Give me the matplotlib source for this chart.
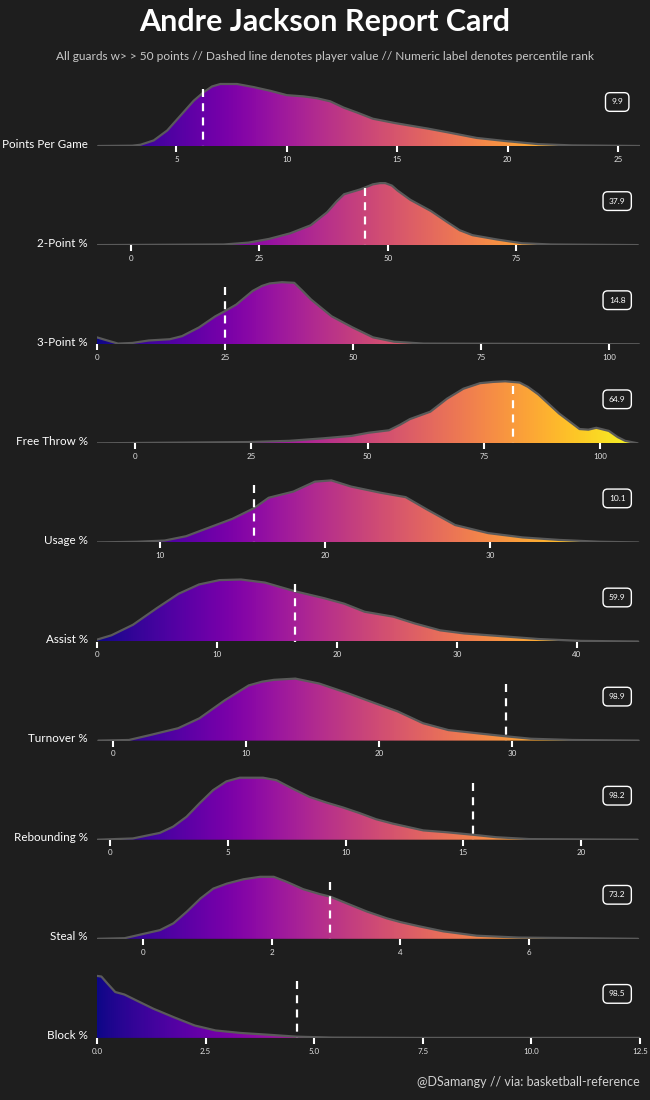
import numpy as np
import matplotlib
matplotlib.use("Agg")
import matplotlib.pyplot as plt

BG = "#1e1e1e"
FONT = ["Lato", "DejaVu Sans"]
plt.rcParams["font.family"] = FONT

TITLE = "Andre Jackson Report Card"
SUBTITLE = "All guards w> > 50 points // Dashed line denotes player value // Numeric label denotes percentile rank"
CREDIT = "@DSamangy // via: basketball-reference"

labels = ["Points Per Game", "2-Point %", "3-Point %", "Free Throw %", "Usage %",
          "Assist %", "Turnover %", "Rebounding %", "Steal %", "Block %"]
player_vals = [6.2, 45.5, 25.0, 81.2, 15.7, 16.5, 29.5, 15.4, 2.9, 4.6]
percentiles = ["9.9", "37.9", "14.8", "64.9", "10.1", "59.9", "98.9", "98.2", "73.2", "98.5"]
xlims = [(1.4, 26.0), (-6.6, 99.1), (0, 106), (-8.2, 108.6), (6.2, 39.1),
         (0, 45.25), (-1.2, 39.6), (-0.55, 22.5), (-0.72, 7.73), (0, 12.5)]
ticks = [[5, 10, 15, 20, 25], [0, 25, 50, 75], [0, 25, 50, 75, 100],
         [0, 25, 50, 75, 100], [10, 20, 30], [0, 10, 20, 30, 40],
         [0, 10, 20, 30], [0, 5, 10, 15, 20], [0, 2, 4, 6],
         [0, 2.5, 5, 7.5, 10, 12.5]]

# density curves (height relative to each panel's peak)
ppg_x = [1.45, 3.0, 3.37, 3.97, 4.58, 5.18, 5.78, 6.24, 6.61, 6.99, 7.74, 8.5,
         9.25, 10.0, 10.76, 11.37, 11.97, 12.57, 13.18, 13.9, 14.9, 16.4, 17.3,
         18.6, 19.9, 21.4, 22.9, 26.0]
ppg_y = [0, 0.005, 0.02, 0.09, 0.25, 0.49, 0.73, 0.87, 0.96, 1.0, 1.0, 0.95,
         0.89, 0.82, 0.80, 0.77, 0.72, 0.62, 0.54, 0.44, 0.37, 0.28, 0.22,
         0.13, 0.08, 0.03, 0.01, 0]
two_x = [-6.5, 18.1, 22.9, 26.9, 31.0, 35.0, 38.2, 40.0, 41.5, 44.7, 47.1, 48.5,
         49.5, 50.8, 51.9, 54.4, 58.4, 61.6, 64.0, 66.5, 71.3, 76.1, 81.8, 98.7]
two_y = [0, 0.01, 0.04, 0.10, 0.19, 0.32, 0.53, 0.70, 0.82, 0.90, 0.98, 1.0,
         1.0, 0.96, 0.88, 0.73, 0.55, 0.37, 0.24, 0.16, 0.09, 0.03, 0.01, 0]
three_x = [0, 1.2, 4.1, 6.9, 10.1, 14.2, 16.6, 19.9, 23.1, 24.9, 27.2, 30.4,
           32.2, 33.7, 36.1, 38.5, 40.0, 41.8, 45.8, 49.9, 53.9, 58.0, 63.7, 105.8]
three_y = [0.11, 0.08, 0.01, 0.02, 0.06, 0.08, 0.13, 0.27, 0.45, 0.53, 0.64,
           0.86, 0.94, 0.98, 1.0, 0.99, 0.87, 0.72, 0.45, 0.27, 0.11, 0.04, 0.01, 0]
ft_x = [-8.2, 24.3, 33.2, 40.4, 46.6, 50.2, 54.6, 57.0, 59.1, 63.5, 67.1, 70.6,
        74.2, 77.0, 79.6, 82.7, 84.5, 86.7, 91.2, 95.6, 97.5, 99.2, 101.9,
        103.8, 105.4, 108.1]
ft_y = [0, 0.02, 0.04, 0.08, 0.12, 0.17, 0.21, 0.30, 0.39, 0.51, 0.72, 0.88,
        0.97, 0.99, 1.0, 0.98, 0.91, 0.79, 0.48, 0.23, 0.22, 0.25, 0.20,
        0.10, 0.04, 0]
usg_x = [6.2, 8.6, 10.3, 11.6, 12.8, 14.4, 15.7, 16.6, 18.1, 19.4, 20.4, 21.6,
         23.4, 24.9, 26.2, 27.9, 29.9, 32.0, 34.2, 36.7, 39.0]
usg_y = [0, 0.01, 0.03, 0.10, 0.22, 0.38, 0.55, 0.72, 0.82, 0.98, 1.0, 0.90,
         0.80, 0.73, 0.53, 0.28, 0.15, 0.08, 0.04, 0.01, 0]
ast_x = [0, 1.2, 3.0, 5.0, 6.8, 8.5, 10.2, 12.0, 14.0, 16.5, 18.9, 20.6, 22.3,
         24.7, 26.5, 28.6, 30.6, 33.4, 36.8, 40.3, 45.1]
ast_y = [0.03, 0.10, 0.27, 0.54, 0.77, 0.92, 0.99, 1.0, 0.95, 0.81, 0.70, 0.61,
         0.48, 0.40, 0.29, 0.18, 0.13, 0.09, 0.04, 0.01, 0]
tov_x = [-1.1, 1.2, 2.8, 4.9, 6.5, 8.4, 10.2, 11.2, 12.1, 13.7, 15.5, 17.7,
         19.6, 21.4, 23.3, 25.2, 27.3, 29.5, 31.4, 34.5, 39.5]
tov_y = [0, 0.01, 0.09, 0.20, 0.36, 0.65, 0.89, 0.95, 0.98, 1.0, 0.92, 0.76,
         0.61, 0.47, 0.28, 0.17, 0.12, 0.07, 0.03, 0.01, 0]
reb_x = [-0.53, 0.97, 2.12, 2.68, 3.25, 3.81, 4.38, 4.94, 5.51, 6.5, 7.06, 7.77,
         8.47, 9.18, 9.89, 10.59, 11.3, 12.0, 13.3, 14.3, 15.4, 16.4, 17.8, 22.4]
reb_y = [0, 0.02, 0.11, 0.21, 0.37, 0.59, 0.80, 0.94, 1.0, 1.0, 0.96, 0.82,
         0.69, 0.60, 0.52, 0.43, 0.33, 0.26, 0.15, 0.12, 0.08, 0.04, 0.01, 0]
stl_x = [-0.71, -0.29, 0.26, 0.47, 0.68, 0.89, 1.09, 1.30, 1.56, 1.82, 2.03,
         2.23, 2.49, 2.75, 2.91, 3.17, 3.48, 3.79, 4.0, 4.3, 4.67, 5.19, 5.84,
         6.80, 7.70]
stl_y = [0, 0.01, 0.14, 0.25, 0.44, 0.65, 0.81, 0.89, 0.96, 1.0, 1.0, 0.92,
         0.80, 0.72, 0.68, 0.57, 0.44, 0.33, 0.27, 0.20, 0.12, 0.05, 0.02, 0.01, 0]
blk_x = [0, 0.1, 0.25, 0.42, 0.63, 0.92, 1.30, 1.78, 2.25, 2.73, 3.30, 3.97, 4.59,
         5.41, 7.3, 12.5]
blk_y = [1.0, 0.99, 0.87, 0.74, 0.70, 0.60, 0.47, 0.33, 0.20, 0.12, 0.08, 0.05,
         0.02, 0.005, 0, 0]

curves = [(ppg_x, ppg_y), (two_x, two_y), (three_x, three_y), (ft_x, ft_y),
          (usg_x, usg_y), (ast_x, ast_y), (tov_x, tov_y), (reb_x, reb_y),
          (stl_x, stl_y), (blk_x, blk_y)]

W, H = 650, 1100
fig = plt.figure(figsize=(W / 100, H / 100), dpi=100, facecolor=BG)

fig.text(0.5, 1 - 22 / H, TITLE, ha="center", va="center", color="white",
         fontsize=22, fontweight="bold")
fig.text(0.5, 1 - 57 / H, SUBTITLE, ha="center", va="center", color="#c8c8c8",
         fontsize=8.6)
fig.text(640 / W, 1 - 1082 / H, CREDIT, ha="right", va="center", color="#d0d0d0",
         fontsize=9)

left, right = 97, 640
ax_h = 80
ytop = ax_h / 62
gradient = np.linspace(0, 1, 512).reshape(1, -1)

for i, (lab, (cx, cy)) in enumerate(zip(labels, curves)):
    base = 146 + 99.1 * i
    ax = fig.add_axes([left / W, 1 - base / H, (right - left) / W, ax_h / H])
    ax.set_facecolor("none")
    x0, x1 = xlims[i]
    ax.set_xlim(x0, x1)
    ax.set_ylim(0, ytop)

    # gradient fill clipped to the density shape
    poly = ax.fill_between(cx, 0, cy, facecolor="none", lw=0)
    im = ax.imshow(gradient, cmap="plasma", aspect="auto",
                   extent=[x0, x1, 0, ytop], origin="lower", zorder=1)
    im.set_clip_path(poly.get_paths()[0], transform=ax.transData)
    ax.plot(cx, cy, color="#5a5a5a", lw=1.6, zorder=2,
            solid_capstyle="round", solid_joinstyle="round")

    # player value, drawn top-down so a dash starts at the top
    ax.plot([player_vals[i]] * 2, [0.92, 0], color="white", lw=1.6,
            dashes=[3.6, 2.8], zorder=3)

    ax.text(0.958, 0.55, percentiles[i], transform=ax.transAxes, ha="center",
            va="center", color="white", fontsize=6,
            bbox=dict(boxstyle="round,pad=0.7,rounding_size=0.55", fc=BG,
                      ec="white", lw=1))

    ax.set_xticks(ticks[i])
    ax.set_yticks([])
    ax.tick_params(axis="x", colors="white", length=4, width=1.5, pad=3,
                   labelsize=5.8, labelcolor="#e0e0e0")
    for s in ax.spines.values():
        s.set_visible(False)

    fig.text(88 / W, 1 - (base - 2) / H, lab, ha="right", va="center",
             color="white", fontsize=8.4)

fig.savefig("out.png", dpi=100, facecolor=BG)
